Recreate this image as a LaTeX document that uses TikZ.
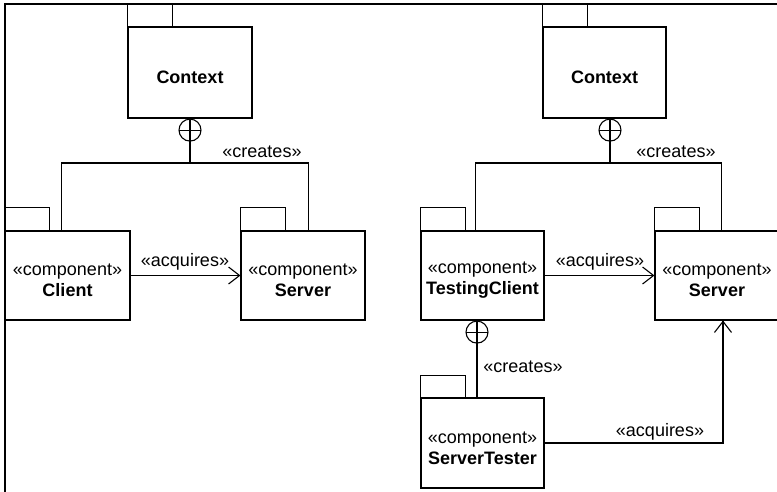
\documentclass[tikz,border=0pt]{standalone}
\usepackage{fontspec}
\setmainfont{Liberation Sans}
\usetikzlibrary{arrows.meta}

\tikzset{
  line/.style={line width=1.1pt, line cap=rect},
  pkgbody/.style={draw, line, rectangle, minimum width=124pt, minimum height=89pt,
    inner sep=0pt},
  pkgtext/.style={align=center, inner sep=0pt, font=\fontsize{18}{21}\selectfont},
  pkgtab/.style={draw, line},
  nest/.style={draw, line, circle, minimum size=22pt, inner sep=0pt, fill=white,
    path picture={\draw[line width=1.1pt]
      (path picture bounding box.north) -- (path picture bounding box.south)
      (path picture bounding box.west) -- (path picture bounding box.east);}},
  stereo/.style={font=\fontsize{18}{21}\selectfont, inner sep=0pt},
  dep/.style={line, -{Straight Barb[length=11pt, width=17pt, line width=1.1pt]}},
}

% draws the tab on top of a package body
\newcommand{\pkgtabon}[2][23pt]{\draw[pkgtab] (#2.north west) rectangle ++(45pt,#1);}
% package text, a little below the middle of the body
\newcommand{\pkglabel}[2]{\node[pkgtext] (#1-text) at ([yshift=-5pt]#1.center) {#2};}

\begin{document}
\begin{tikzpicture}[x=1pt, y=-1pt]
\useasboundingbox (0,0) rectangle (777,491);
\clip (0,0) rectangle (777,491);

% frame
\coordinate (frameTL) at (5,4);
\coordinate (frameTR) at (777,4);
\coordinate (frameBL) at (5,491);
\draw[line] (frameTR) -- (frameTL) -- (frameBL);

% ---------- left: production configuration ----------
\node[pkgbody, minimum height=91pt] (ctxL) at (190,72.5) {};
\pkgtabon{ctxL}
\pkglabel{ctxL}{\textbf{Context}}
\node[pkgbody, minimum width=125pt] (client) at (67.5,275.5) {};
\pkgtabon{client}
\pkglabel{client}{«component»\\\textbf{Client}}
\node[pkgbody] (serverL) at (303,275.5) {};
\pkgtabon{serverL}
\pkglabel{serverL}{«component»\\\textbf{Server}}

\node[nest, anchor=north] (cpL) at (ctxL.south) {};
\coordinate (jL) at (cpL.south |- 0,163);
\draw[line] (cpL.south) -- (jL);
\draw[line] ([xshift=57pt]client.north west) |- (jL) -| ([xshift=-57pt]serverL.north east);
\node[stereo] (crL) at (262,152) {«creates»};

\draw[dep] (client.east) -- (serverL.west);
\node[stereo] (acqL) at (185,262) {«acquires»};

% ---------- right: test configuration ----------
\node[pkgbody, minimum width=123pt, minimum height=91pt] (ctxR) at (604.5,72.5) {};
\pkgtabon{ctxR}
\pkglabel{ctxR}{\textbf{Context}}
\node[pkgbody, minimum width=123pt] (tclient) at (482.5,275.5) {};
\pkgtabon{tclient}
\pkglabel{tclient}{«component»\\\textbf{TestingClient}}
\node[pkgbody] (serverR) at (717,275.5) {};
\pkgtabon{serverR}
\pkglabel{serverR}{«component»\\\textbf{Server}}
\node[pkgbody, minimum width=123pt, minimum height=90pt] (stester) at (482.5,443) {};
\pkgtabon[22pt]{stester}
\pkglabel{stester}{«component»\\\textbf{ServerTester}}

\node[nest, anchor=north] (cpR) at ([xshift=5.5pt]ctxR.south) {};
\coordinate (jR) at (cpR.south |- 0,163);
\draw[line] (cpR.south) -- (jR);
\draw[line] ([xshift=55pt]tclient.north west) |- (jR) -| ([xshift=67pt]serverR.north west);
\node[stereo] (crR) at (676,152) {«creates»};

\draw[dep] (tclient.east) -- (serverR.west);
\node[stereo] (acqR) at (600,262) {«acquires»};

\node[nest, anchor=north] (cpT) at ([xshift=-5.5pt]tclient.south) {};
\draw[line] (cpT.south) -- (cpT.south |- stester.north);
\node[stereo] (crT) at (523,367) {«creates»};

\coordinate (bend) at ([xshift=6pt]serverR.south |- stester.east);
\draw[dep] (stester.east) -- (bend) -- ([xshift=6pt]serverR.south);
\node[stereo] (acqT) at (660,432) {«acquires»};
\end{tikzpicture}
\end{document}
